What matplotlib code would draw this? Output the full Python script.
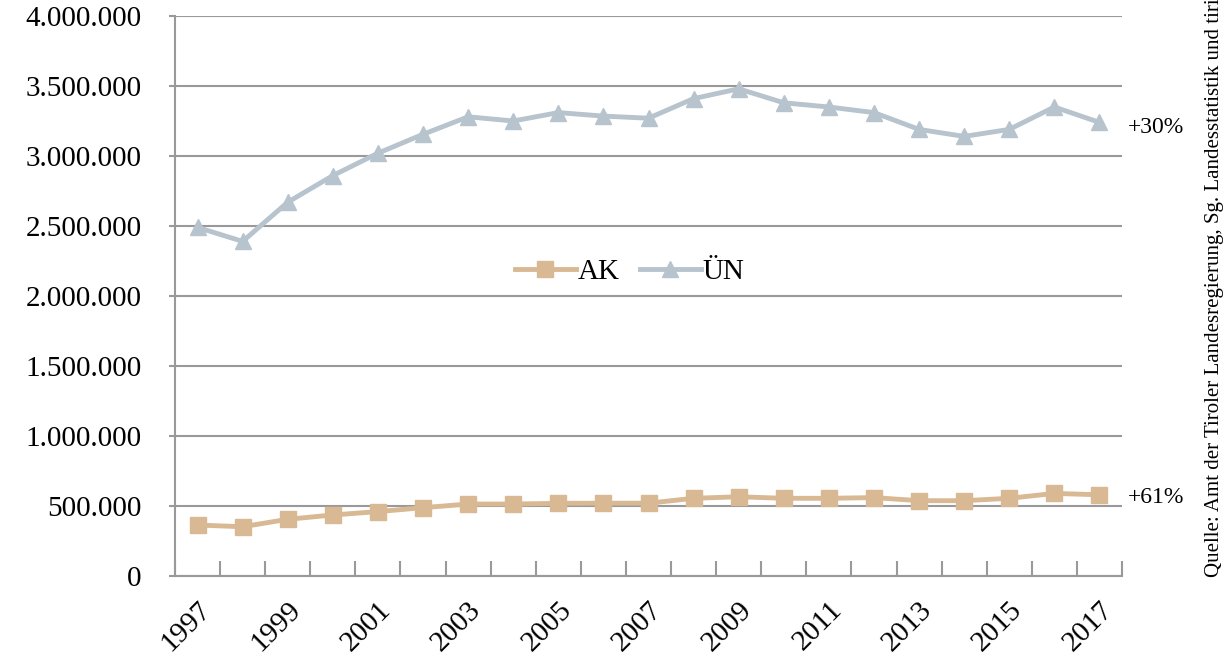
import matplotlib.pyplot as plt
from matplotlib.ticker import FuncFormatter, FixedLocator

years = list(range(1997, 2018))
ak = [364000, 352000, 405000, 436000, 460000, 488000, 514000, 514000, 519000, 520000, 520000,
      555000, 566000, 555000, 555000, 560000, 538000, 538000, 555000, 590000, 580000]
un = [2490000, 2390000, 2670000, 2860000, 3020000, 3155000, 3280000, 3250000, 3310000, 3285000, 3270000,
      3410000, 3480000, 3380000, 3350000, 3310000, 3190000, 3140000, 3190000, 3350000, 3240000]
series_labels = ["AK", "ÜN"]
change_labels = ["+61%", "+30%"]
yticks = [0, 500000, 1000000, 1500000, 2000000, 2500000, 3000000, 3500000, 4000000]

plt.rcParams["font.family"] = ["Liberation Serif", "DejaVu Serif"]

ak_col = "#d8b994"
un_col = "#b7c3cd"
grid_col = "#999999"

fig = plt.figure(figsize=(12.24, 6.68), dpi=100)
ax = fig.add_axes([175 / 1224, 1 - 576 / 668, 947 / 1224, 560 / 668])

x = list(range(len(years)))
ax.plot(x, ak, color=ak_col, lw=3.5, marker="s", ms=11.5, label=series_labels[0], zorder=3)
ax.plot(x, un, color=un_col, lw=3.5, marker="^", ms=11.5, label=series_labels[1], zorder=3)

ax.set_xlim(-0.5, len(years) - 0.5)
ax.set_ylim(0, 4000000)
ax.set_yticks(yticks)
ax.yaxis.set_major_formatter(FuncFormatter(lambda v, p: f"{int(v):,}".replace(",", ".")))
ax.grid(axis="y", color=grid_col, lw=1.5, zorder=1)

# category ticks between years, labels every other year
ax.xaxis.set_major_locator(FixedLocator([i - 0.5 for i in range(len(years) + 1)]))
ax.xaxis.set_major_formatter(FuncFormatter(lambda v, p: ""))
ax.set_xticks(x[::2], minor=True)
ax.set_xticklabels([str(y) for y in years[::2]], minor=True, rotation=45, ha="right", va="top",
                   fontsize=21, rotation_mode="anchor")
ax.tick_params(axis="x", which="minor", length=0, pad=15)
ax.tick_params(axis="x", which="major", direction="in", length=11, width=1.5, color=grid_col)
ax.tick_params(axis="y", direction="out", length=4, width=1.5, color=grid_col, labelsize=21, pad=20)

for s in ["top", "right"]:
    ax.spines[s].set_visible(False)
for s in ["left", "bottom"]:
    ax.spines[s].set_color(grid_col)
    ax.spines[s].set_linewidth(1.5)

ax.legend(loc="center", bbox_to_anchor=(0.48, 0.543), ncol=2, frameon=False, fontsize=21,
          handlelength=2.1, handletextpad=0.05, columnspacing=0.7, borderaxespad=0)

ax.annotate(change_labels[1], xy=(1, un[-1]), xycoords=("axes fraction", "data"), xytext=(4, -4),
            textcoords="offset points", fontsize=17, va="center", ha="left", annotation_clip=False)
ax.annotate(change_labels[0], xy=(1, ak[-1]), xycoords=("axes fraction", "data"), xytext=(4, -2),
            textcoords="offset points", fontsize=17, va="center", ha="left", annotation_clip=False)

fig.text(1214 / 1224, 1 - 577 / 668, "Quelle: Amt der Tiroler Landesregierung, Sg. Landesstatistik und tiris",
         rotation=90, ha="center", va="bottom", fontsize=15)

fig.savefig("out.png", dpi=100, facecolor="white")
